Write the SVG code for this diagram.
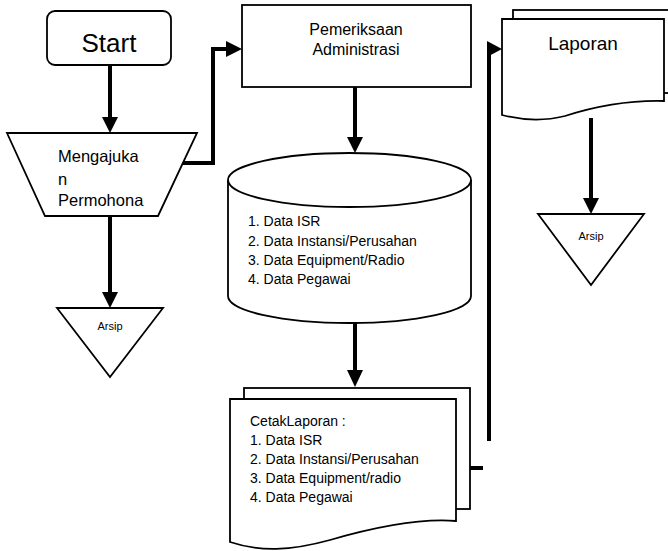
<svg xmlns="http://www.w3.org/2000/svg" width="668" height="551" viewBox="0 0 668 551">
<style>
.s{fill:#fff;stroke:#000;stroke-width:1.8;stroke-linejoin:miter}
.c{fill:none;stroke:#000;stroke-width:4}
.h{fill:#000;stroke:none}
text{font-family:"Liberation Sans",Arial,sans-serif;fill:#000}
.t{font-size:14px}
</style>
<rect width="668" height="551" fill="#fff"/>
<g id="start">
<rect class="s" x="47" y="11" width="124" height="54" rx="8"/>
<text x="109" y="52" font-size="26" text-anchor="middle">Start</text>
</g>
<g id="mengajukan">
<polygon class="s" points="7,133 197,133 158,216 45,216"/>
<text font-size="16.5"><tspan x="58" y="162">Mengajuka</tspan><tspan x="58" y="185">n</tspan><tspan x="58" y="206">Permohona</tspan></text>
</g>
<g id="arsip1">
<polygon class="s" points="57,308 163,308 110,377"/>
<text x="110" y="330" font-size="11" text-anchor="middle">Arsip</text>
</g>
<g id="pemeriksaan">
<rect class="s" x="242" y="5" width="229" height="82"/>
<text font-size="16" text-anchor="middle"><tspan x="356" y="35">Pemeriksaan</tspan><tspan x="356" y="55">Administrasi</tspan></text>
</g>
<g id="database">
<path class="s" d="M228,180 L228,296 A121.5,27 0 0 0 471,296 L471,180 A121.5,27 0 0 0 228,180 Z"/>
<path class="s" fill="none" d="M228,180 A121.5,27 0 0 0 471,180"/>
<text class="t"><tspan x="248" y="226">1. Data ISR</tspan><tspan x="248" y="246">2. Data Instansi/Perusahan</tspan><tspan x="248" y="265">3. Data  Equipment/Radio</tspan><tspan x="248" y="284">4. Data Pegawai</tspan></text>
</g>
<g id="cetak">
<rect class="s" x="244" y="388" width="226" height="121"/>
<path class="s" d="M230,399 L456,399 L456,521 C420,518 375,527 330,540 C290,551 260,552 230,542 Z"/>
<text class="t"><tspan x="250" y="426">CetakLaporan :</tspan><tspan x="250" y="445">1. Data ISR</tspan><tspan x="250" y="464">2. Data Instansi/Perusahan</tspan><tspan x="250" y="483">3. Data Equipment/radio</tspan><tspan x="250" y="502">4. Data Pegawai</tspan></text>
</g>
<g id="laporan">
<rect class="s" x="513" y="10" width="170" height="83"/>
<path class="s" d="M502,19 L664,19 L664,101 C625,100 590,108 565,116 C545,121 525,121 502,115 Z"/>
<text x="583" y="50" font-size="19" text-anchor="middle">Laporan</text>
</g>
<g id="arsip2">
<polygon class="s" points="538,214 644,214 591,285"/>
<text x="591" y="240" font-size="11" text-anchor="middle">Arsip</text>
</g>
<g id="connectors">
<line class="c" x1="110" y1="65" x2="110" y2="119"/>
<polygon class="h" points="102,117 118,117 110,133"/>
<polyline class="c" points="183,163 213,163 213,49 227,49"/>
<polygon class="h" points="226,41 242,49 226,57"/>
<line class="c" x1="355" y1="87" x2="355" y2="139"/>
<polygon class="h" points="347,137 363,137 355,153"/>
<line class="c" x1="355" y1="323" x2="355" y2="372"/>
<polygon class="h" points="347,370 363,370 355,387"/>
<line class="c" x1="110" y1="216" x2="110" y2="294"/>
<polygon class="h" points="102,292 118,292 110,308"/>
<line class="c" x1="591" y1="118" x2="591" y2="200"/>
<polygon class="h" points="583,198 599,198 591,214"/>
<line class="c" x1="470" y1="468" x2="483" y2="468"/>
<line class="c" x1="489" y1="441" x2="489" y2="50"/>
<polygon class="h" points="487,41 502,49 487,57"/>
</g>
</svg>
